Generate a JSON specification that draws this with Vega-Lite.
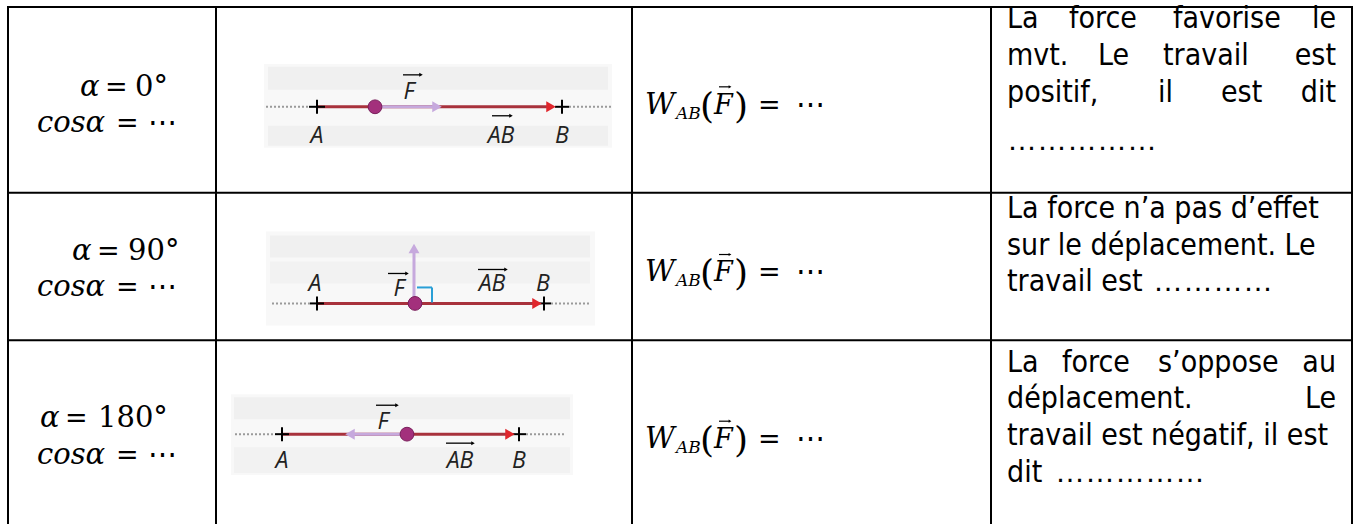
{
  "$schema": "https://vega.github.io/schema/vega-lite/v6.json",
  "width": 1354,
  "height": 525,
  "autosize": {"type": "fit", "contains": "padding"},
  "padding": 0,
  "background": "white",
  "config": {"view": {"stroke": null}},
  "datasets": {
    "rects": [
      {"x": 264, "x2": 612, "y": 64, "y2": 148, "c": "#f8f8f8"},
      {"x": 268, "x2": 608, "y": 67, "y2": 90, "c": "#f0f0f0"},
      {"x": 268, "x2": 608, "y": 126, "y2": 146, "c": "#f0f0f0"},
      {"x": 266, "x2": 595, "y": 232, "y2": 326, "c": "#f8f8f8"},
      {"x": 270, "x2": 590, "y": 236, "y2": 258, "c": "#f0f0f0"},
      {"x": 270, "x2": 590, "y": 262, "y2": 284, "c": "#f2f2f2"},
      {"x": 231, "x2": 573, "y": 395, "y2": 476, "c": "#f8f8f8"},
      {"x": 234, "x2": 570, "y": 398, "y2": 420, "c": "#f0f0f0"},
      {"x": 234, "x2": 570, "y": 448, "y2": 474, "c": "#f2f2f2"}
    ],
    "segs": [
      {"x": 8, "y": 7, "x2": 8, "y2": 525, "c": "black", "w": 2},
      {"x": 216, "y": 7, "x2": 216, "y2": 525, "c": "black", "w": 2},
      {"x": 632, "y": 7, "x2": 632, "y2": 525, "c": "black", "w": 2},
      {"x": 991, "y": 7, "x2": 991, "y2": 525, "c": "black", "w": 2},
      {"x": 1352, "y": 7, "x2": 1352, "y2": 525, "c": "black", "w": 2},
      {"x": 7, "y": 7, "x2": 1353, "y2": 7, "c": "black", "w": 2},
      {"x": 7, "y": 193, "x2": 1353, "y2": 193, "c": "black", "w": 2},
      {"x": 7, "y": 341, "x2": 1353, "y2": 341, "c": "black", "w": 2},

      {"x": 317, "y": 107, "x2": 548, "y2": 107, "c": "#a8323c", "w": 3},
      {"x": 375, "y": 107, "x2": 434, "y2": 107, "c": "#c6a9dd", "w": 3},
      {"x": 317, "y": 100, "x2": 317, "y2": 114, "c": "black", "w": 2},
      {"x": 309, "y": 107, "x2": 325, "y2": 107, "c": "black", "w": 2},
      {"x": 562, "y": 100, "x2": 562, "y2": 114, "c": "black", "w": 2},
      {"x": 555, "y": 107, "x2": 569, "y2": 107, "c": "black", "w": 2},
      {"x": 492, "y": 116, "x2": 510, "y2": 116, "c": "black", "w": 1.3},
      {"x": 403, "y": 75, "x2": 420, "y2": 75, "c": "black", "w": 1.3},

      {"x": 317, "y": 304, "x2": 533, "y2": 304, "c": "#a8323c", "w": 3},
      {"x": 317, "y": 297, "x2": 317, "y2": 311, "c": "black", "w": 2},
      {"x": 310, "y": 304, "x2": 324, "y2": 304, "c": "black", "w": 2},
      {"x": 544, "y": 297, "x2": 544, "y2": 311, "c": "black", "w": 2},
      {"x": 537, "y": 304, "x2": 551, "y2": 304, "c": "black", "w": 2},
      {"x": 414, "y": 304, "x2": 414, "y2": 252, "c": "#c6a9dd", "w": 3},
      {"x": 417, "y": 288, "x2": 432, "y2": 288, "c": "#2a9fd6", "w": 2},
      {"x": 432, "y": 288, "x2": 432, "y2": 303, "c": "#2a9fd6", "w": 2},
      {"x": 388, "y": 274, "x2": 406, "y2": 274, "c": "black", "w": 1.3},
      {"x": 478, "y": 270, "x2": 505, "y2": 270, "c": "black", "w": 1.3},

      {"x": 282, "y": 435, "x2": 508, "y2": 435, "c": "#a8323c", "w": 3},
      {"x": 407, "y": 435, "x2": 353, "y2": 435, "c": "#c6a9dd", "w": 3},
      {"x": 282, "y": 428, "x2": 282, "y2": 442, "c": "black", "w": 2},
      {"x": 275, "y": 435, "x2": 289, "y2": 435, "c": "black", "w": 2},
      {"x": 519, "y": 428, "x2": 519, "y2": 442, "c": "black", "w": 2},
      {"x": 512, "y": 435, "x2": 526, "y2": 435, "c": "black", "w": 2},
      {"x": 376, "y": 406, "x2": 396, "y2": 406, "c": "black", "w": 1.3},
      {"x": 446, "y": 444, "x2": 472, "y2": 444, "c": "black", "w": 1.3},

      {"x": 719, "y": 87, "x2": 729, "y2": 87, "c": "black", "w": 1.2},
      {"x": 719, "y": 255, "x2": 729, "y2": 255, "c": "black", "w": 1.2},
      {"x": 719, "y": 422, "x2": 729, "y2": 422, "c": "black", "w": 1.2}
    ],
    "dashes": [
      {"x": 266, "y": 107, "x2": 310, "y2": 107},
      {"x": 569, "y": 107, "x2": 612, "y2": 107},
      {"x": 272, "y": 304, "x2": 310, "y2": 304},
      {"x": 551, "y": 304, "x2": 589, "y2": 304},
      {"x": 235, "y": 435, "x2": 275, "y2": 435},
      {"x": 526, "y": 435, "x2": 566, "y2": 435}
    ],
    "heads": [
      {"x": 437, "y": 107, "sh": "triangle-right", "c": "#c6a9dd", "sz": 120},
      {"x": 551, "y": 107, "sh": "triangle-right", "c": "#e0262c", "sz": 120},
      {"x": 537, "y": 304, "sh": "triangle-right", "c": "#e0262c", "sz": 120},
      {"x": 414, "y": 249, "sh": "triangle-up", "c": "#c6a9dd", "sz": 120},
      {"x": 510, "y": 435, "sh": "triangle-right", "c": "#e0262c", "sz": 120},
      {"x": 350, "y": 435, "sh": "triangle-left", "c": "#c6a9dd", "sz": 120},
      {"x": 511, "y": 116, "sh": "triangle-right", "c": "black", "sz": 16},
      {"x": 421, "y": 75, "sh": "triangle-right", "c": "black", "sz": 16},
      {"x": 407, "y": 274, "sh": "triangle-right", "c": "black", "sz": 16},
      {"x": 506, "y": 270, "sh": "triangle-right", "c": "black", "sz": 16},
      {"x": 397, "y": 406, "sh": "triangle-right", "c": "black", "sz": 16},
      {"x": 473, "y": 444, "sh": "triangle-right", "c": "black", "sz": 16},
      {"x": 730, "y": 87, "sh": "triangle-right", "c": "black", "sz": 10},
      {"x": 730, "y": 255, "sh": "triangle-right", "c": "black", "sz": 10},
      {"x": 730, "y": 422, "sh": "triangle-right", "c": "black", "sz": 10}
    ],
    "dots": [
      {"x": 375, "y": 107},
      {"x": 415, "y": 304},
      {"x": 407, "y": 435}
    ],
    "texts": [
      {"x": 80, "y": 96, "t": "α", "k": "mi", "s": 29},
      {"x": 105, "y": 96, "t": "=", "k": "mn", "s": 27},
      {"x": 135, "y": 96, "t": "0°", "k": "mn", "s": 29},
      {"x": 37, "y": 132, "t": "cosα", "k": "mi", "s": 29},
      {"x": 116, "y": 132, "t": "=", "k": "mn", "s": 27},
      {"x": 148, "y": 132, "t": "⋯", "k": "mn", "s": 29},

      {"x": 72, "y": 260, "t": "α", "k": "mi", "s": 29},
      {"x": 97, "y": 260, "t": "=", "k": "mn", "s": 27},
      {"x": 128, "y": 260, "t": "90°", "k": "mn", "s": 29},
      {"x": 37, "y": 297, "t": "cosα", "k": "mi", "s": 29},
      {"x": 116, "y": 297, "t": "=", "k": "mn", "s": 27},
      {"x": 148, "y": 297, "t": "⋯", "k": "mn", "s": 29},

      {"x": 40, "y": 428, "t": "α", "k": "mi", "s": 29},
      {"x": 65, "y": 428, "t": "=", "k": "mn", "s": 27},
      {"x": 98, "y": 428, "t": "180°", "k": "mn", "s": 29},
      {"x": 37, "y": 465, "t": "cosα", "k": "mi", "s": 29},
      {"x": 116, "y": 465, "t": "=", "k": "mn", "s": 27},
      {"x": 148, "y": 465, "t": "⋯", "k": "mn", "s": 29},

      {"x": 645, "y": 114, "t": "W", "k": "mi", "s": 29},
      {"x": 676, "y": 119, "t": "AB", "k": "mi", "s": 17},
      {"x": 700, "y": 118, "t": "(", "k": "mn", "s": 36},
      {"x": 714, "y": 114, "t": "F", "k": "mi", "s": 27},
      {"x": 734, "y": 118, "t": ")", "k": "mn", "s": 36},
      {"x": 758, "y": 114, "t": "=", "k": "mn", "s": 27},
      {"x": 796, "y": 114, "t": "⋯", "k": "mn", "s": 29},

      {"x": 645, "y": 282, "t": "W", "k": "mi", "s": 29},
      {"x": 676, "y": 287, "t": "AB", "k": "mi", "s": 17},
      {"x": 700, "y": 286, "t": "(", "k": "mn", "s": 36},
      {"x": 714, "y": 282, "t": "F", "k": "mi", "s": 27},
      {"x": 734, "y": 286, "t": ")", "k": "mn", "s": 36},
      {"x": 758, "y": 282, "t": "=", "k": "mn", "s": 27},
      {"x": 796, "y": 282, "t": "⋯", "k": "mn", "s": 29},

      {"x": 645, "y": 449, "t": "W", "k": "mi", "s": 29},
      {"x": 676, "y": 454, "t": "AB", "k": "mi", "s": 17},
      {"x": 700, "y": 453, "t": "(", "k": "mn", "s": 36},
      {"x": 714, "y": 449, "t": "F", "k": "mi", "s": 27},
      {"x": 734, "y": 453, "t": ")", "k": "mn", "s": 36},
      {"x": 758, "y": 449, "t": "=", "k": "mn", "s": 27},
      {"x": 796, "y": 449, "t": "⋯", "k": "mn", "s": 29},

      {"x": 1007, "y": 28, "t": "La", "k": "sL", "s": 30},
      {"x": 1069, "y": 28, "t": "force", "k": "sL", "s": 30},
      {"x": 1173, "y": 28, "t": "favorise", "k": "sL", "s": 30},
      {"x": 1336, "y": 28, "t": "le", "k": "sR", "s": 30},
      {"x": 1007, "y": 65, "t": "mvt.", "k": "sL", "s": 30},
      {"x": 1098, "y": 65, "t": "Le", "k": "sL", "s": 30},
      {"x": 1163, "y": 65, "t": "travail", "k": "sL", "s": 30},
      {"x": 1336, "y": 65, "t": "est", "k": "sR", "s": 30},
      {"x": 1007, "y": 102, "t": "positif,", "k": "sL", "s": 30},
      {"x": 1158, "y": 102, "t": "il", "k": "sL", "s": 30},
      {"x": 1221, "y": 102, "t": "est", "k": "sL", "s": 30},
      {"x": 1336, "y": 102, "t": "dit", "k": "sR", "s": 30},
      {"x": 1007, "y": 150, "t": "……………", "k": "dot", "s": 30},

      {"x": 1007, "y": 218, "t": "La force n’a pas d’effet", "k": "sL", "s": 30},
      {"x": 1007, "y": 255, "t": "sur le déplacement. Le", "k": "sL", "s": 30},
      {"x": 1007, "y": 292, "t": "travail est", "k": "sL", "s": 30},
      {"x": 1153, "y": 292, "t": "…………", "k": "dot", "s": 30},

      {"x": 1007, "y": 373, "t": "La", "k": "sL", "s": 30},
      {"x": 1062, "y": 373, "t": "force", "k": "sL", "s": 30},
      {"x": 1158, "y": 373, "t": "s’oppose", "k": "sL", "s": 30},
      {"x": 1336, "y": 373, "t": "au", "k": "sR", "s": 30},
      {"x": 1007, "y": 409, "t": "déplacement.", "k": "sL", "s": 30},
      {"x": 1336, "y": 409, "t": "Le", "k": "sR", "s": 30},
      {"x": 1007, "y": 446, "t": "travail est négatif, il est", "k": "sL", "s": 30},
      {"x": 1007, "y": 483, "t": "dit", "k": "sL", "s": 30},
      {"x": 1055, "y": 483, "t": "……………", "k": "dot", "s": 30},

      {"x": 317, "y": 143, "t": "A", "k": "lab", "s": 23},
      {"x": 562, "y": 143, "t": "B", "k": "lab", "s": 23},
      {"x": 409, "y": 99, "t": "F", "k": "lab", "s": 23},
      {"x": 501, "y": 143, "t": "AB", "k": "lab", "s": 23},
      {"x": 315, "y": 292, "t": "A", "k": "lab", "s": 23},
      {"x": 399, "y": 297, "t": "F", "k": "lab", "s": 23},
      {"x": 492, "y": 292, "t": "AB", "k": "lab", "s": 23},
      {"x": 543, "y": 292, "t": "B", "k": "lab", "s": 23},
      {"x": 282, "y": 469, "t": "A", "k": "lab", "s": 23},
      {"x": 383, "y": 430, "t": "F", "k": "lab", "s": 23},
      {"x": 460, "y": 469, "t": "AB", "k": "lab", "s": 23},
      {"x": 519, "y": 469, "t": "B", "k": "lab", "s": 23}
    ]
  },
  "encoding": {
    "x": {"field": "x", "type": "quantitative", "scale": {"domain": [0, 1354], "nice": false, "zero": false}, "axis": null},
    "y": {"field": "y", "type": "quantitative", "scale": {"domain": [0, 525], "nice": false, "zero": false, "reverse": true}, "axis": null}
  },
  "layer": [
    {
      "data": {"name": "rects"},
      "mark": {"type": "rect"},
      "encoding": {
        "x2": {"field": "x2"},
        "y2": {"field": "y2"},
        "color": {"field": "c", "type": "nominal", "scale": null, "legend": null}
      }
    },
    {
      "data": {"name": "dashes"},
      "mark": {"type": "rule", "color": "#9a9a9a", "strokeWidth": 2, "strokeDash": [2, 2]},
      "encoding": {
        "x2": {"field": "x2"},
        "y2": {"field": "y2"}
      }
    },
    {
      "data": {"name": "segs"},
      "mark": {"type": "rule"},
      "encoding": {
        "x2": {"field": "x2"},
        "y2": {"field": "y2"},
        "color": {"field": "c", "type": "nominal", "scale": null, "legend": null},
        "strokeWidth": {"field": "w", "type": "quantitative", "scale": null, "legend": null}
      }
    },
    {
      "data": {"name": "heads"},
      "mark": {"type": "point", "filled": true, "opacity": 1},
      "encoding": {
        "shape": {"field": "sh", "type": "nominal", "scale": null, "legend": null},
        "color": {"field": "c", "type": "nominal", "scale": null, "legend": null},
        "size": {"field": "sz", "type": "quantitative", "scale": null, "legend": null}
      }
    },
    {
      "data": {"name": "dots"},
      "mark": {"type": "point", "shape": "circle", "filled": true, "opacity": 1, "size": 190, "color": "#a3307c", "stroke": "#7a1f5c", "strokeWidth": 1}
    },
    {
      "data": {"name": "texts"},
      "transform": [{"filter": "datum.k === 'mi'"}],
      "mark": {"type": "text", "font": "DejaVu Serif", "fontStyle": "italic", "align": "left", "baseline": "alphabetic", "color": "black"},
      "encoding": {
        "text": {"field": "t"},
        "size": {"field": "s", "type": "quantitative", "scale": null, "legend": null}
      }
    },
    {
      "data": {"name": "texts"},
      "transform": [{"filter": "datum.k === 'mn'"}],
      "mark": {"type": "text", "font": "DejaVu Serif", "align": "left", "baseline": "alphabetic", "color": "black"},
      "encoding": {
        "text": {"field": "t"},
        "size": {"field": "s", "type": "quantitative", "scale": null, "legend": null}
      }
    },
    {
      "data": {"name": "texts"},
      "transform": [{"filter": "datum.k === 'sL'"}],
      "mark": {"type": "text", "font": "Liberation Sans Narrow, Arial Narrow, DejaVu Sans Condensed, sans-serif", "align": "left", "baseline": "alphabetic", "color": "black"},
      "encoding": {
        "text": {"field": "t"},
        "size": {"field": "s", "type": "quantitative", "scale": null, "legend": null}
      }
    },
    {
      "data": {"name": "texts"},
      "transform": [{"filter": "datum.k === 'sR'"}],
      "mark": {"type": "text", "font": "Liberation Sans Narrow, Arial Narrow, DejaVu Sans Condensed, sans-serif", "align": "right", "baseline": "alphabetic", "color": "black"},
      "encoding": {
        "text": {"field": "t"},
        "size": {"field": "s", "type": "quantitative", "scale": null, "legend": null}
      }
    },
    {
      "data": {"name": "texts"},
      "transform": [{"filter": "datum.k === 'dot'"}],
      "mark": {"type": "text", "font": "Liberation Sans", "align": "left", "baseline": "alphabetic", "color": "black"},
      "encoding": {
        "text": {"field": "t"},
        "size": {"field": "s", "type": "quantitative", "scale": null, "legend": null}
      }
    },
    {
      "data": {"name": "texts"},
      "transform": [{"filter": "datum.k === 'lab'"}],
      "mark": {"type": "text", "font": "Open Sans", "fontStyle": "italic", "align": "center", "baseline": "alphabetic", "color": "#222222"},
      "encoding": {
        "text": {"field": "t"},
        "size": {"field": "s", "type": "quantitative", "scale": null, "legend": null}
      }
    }
  ]
}
